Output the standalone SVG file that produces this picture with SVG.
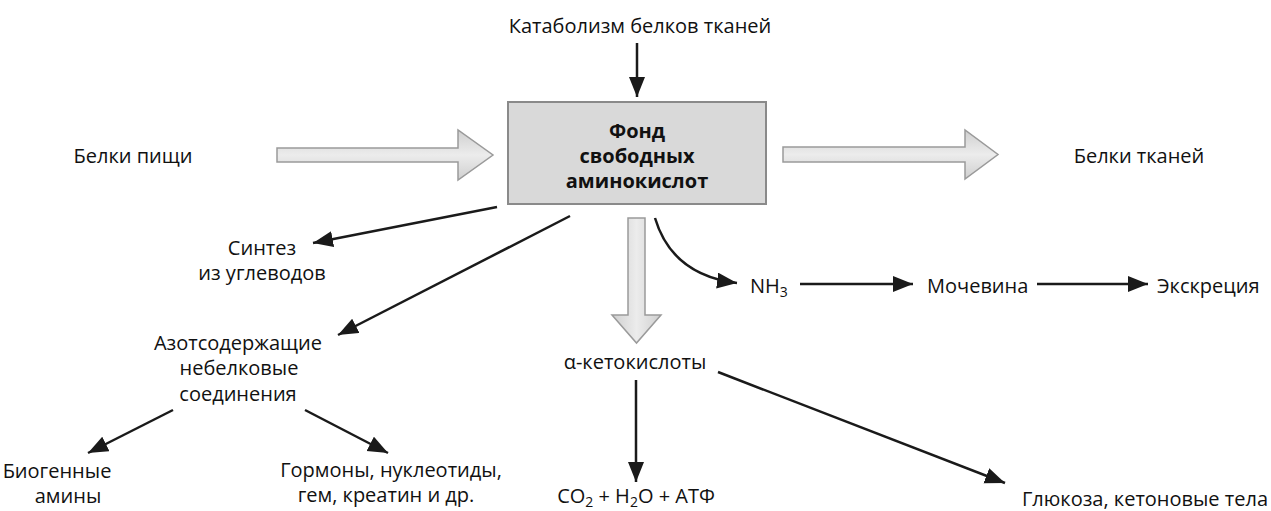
<svg xmlns="http://www.w3.org/2000/svg" width="1271" height="511" viewBox="0 0 1271 511">
<defs>
<style>
text{font-family:"Open Sans","Noto Sans","DejaVu Sans",sans-serif;font-size:20px;fill:#111111;}
.c{text-anchor:middle;}
.b{font-weight:bold;}
.ln{fill:none;stroke:#1a1a1a;stroke-width:2.5;marker-end:url(#ah);}
.blk{fill:url(#gh);stroke:#9a9a9a;stroke-width:1.5;}
.blkv{fill:url(#gv);stroke:#9a9a9a;stroke-width:1.5;}
</style>
<linearGradient id="gh" x1="0" y1="0" x2="0" y2="1">
<stop offset="0" stop-color="#cfcfcf"/><stop offset="0.5" stop-color="#ececec"/><stop offset="1" stop-color="#cfcfcf"/>
</linearGradient>
<linearGradient id="gv" x1="0" y1="0" x2="1" y2="0">
<stop offset="0" stop-color="#cfcfcf"/><stop offset="0.5" stop-color="#ececec"/><stop offset="1" stop-color="#cfcfcf"/>
</linearGradient>
<marker id="ah" markerUnits="userSpaceOnUse" markerWidth="22" markerHeight="18" refX="20" refY="8" orient="auto">
<path d="M0,0 L20,8 L0,16 Z" fill="#1a1a1a"/>
</marker>
</defs>
<rect width="1271" height="511" fill="#ffffff"/>

<g id="pool">
<rect x="508" y="102" width="258" height="102" fill="#d9d9d9" stroke="#8a8a8a" stroke-width="2"/>
<text class="c b" x="637" y="138">Фонд</text>
<text class="c b" x="637" y="163">свободных</text>
<text class="c b" x="637" y="188">аминокислот</text>
</g>
<g id="catabolism"><text class="c" x="640" y="33">Катаболизм белков тканей</text></g>
<g id="food"><text class="c" x="133" y="163">Белки пищи</text></g>
<g id="tissue"><text class="c" x="1139" y="163">Белки тканей</text></g>
<g id="synthesis">
<text class="c" x="262" y="255">Синтез</text>
<text class="c" x="262" y="280">из углеводов</text>
</g>
<g id="nitrogen">
<text class="c" x="238" y="350">Азотсодержащие</text>
<text class="c" x="239" y="375">небелковые</text>
<text class="c" x="238" y="401">соединения</text>
</g>
<g id="amines">
<text class="c" x="57" y="478">Биогенные</text>
<text class="c" x="68" y="503">амины</text>
</g>
<g id="hormones">
<text class="c" x="391" y="477">Гормоны, нуклеотиды,</text>
<text class="c" x="386" y="502">гем, креатин и др.</text>
</g>
<g id="ketoacids"><text class="c" x="635" y="369">α-кетокислоты</text></g>
<g id="co2"><text class="c" x="636" y="503">CO<tspan font-size="14" dy="4">2</tspan><tspan dy="-4"> + H</tspan><tspan font-size="14" dy="4">2</tspan><tspan dy="-4">O + АТФ</tspan></text></g>
<g id="glucose"><text text-anchor="end" x="1268" y="506">Глюкоза, кетоновые тела</text></g>
<g id="nh3"><text x="750" y="293">NH<tspan font-size="14" dy="4">3</tspan></text></g>
<g id="urea"><text x="927" y="293">Мочевина</text></g>
<g id="excretion"><text x="1157" y="293">Экскреция</text></g>

<g id="connectors">
<path class="blk" d="M277,148 H458 V130 L493,155 L458,180 V162 H277 Z"/>
<path class="blk" d="M783,147 H965 V130 L998,154.5 L965,179 V162 H783 Z"/>
<path class="blkv" d="M628,218 V315 H612 L636.5,343 L661,315 H645 V218 Z"/>
<path class="ln" d="M637,43 V97"/>
<path class="ln" d="M497,207 L313,243"/>
<path class="ln" d="M570,216 L338,335"/>
<path class="ln" d="M655,218 Q672,275 737,283"/>
<path class="ln" d="M800,284 H913"/>
<path class="ln" d="M1037,284 H1148"/>
<path class="ln" d="M173,410 L88,453"/>
<path class="ln" d="M305,410 L388,453"/>
<path class="ln" d="M636,380 V482"/>
<path class="ln" d="M718,372 L1005,483"/>
</g>
</svg>
